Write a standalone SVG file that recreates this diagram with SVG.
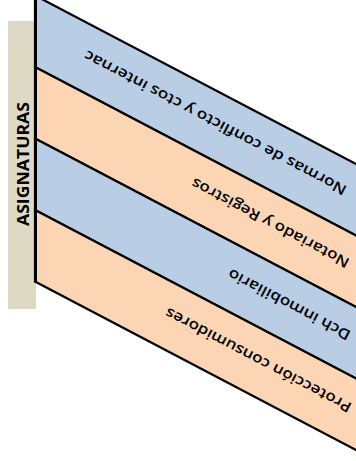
<svg xmlns="http://www.w3.org/2000/svg" width="356" height="461" viewBox="0 0 356 461">
<style>
.band{stroke:#000;stroke-width:2.2;stroke-linejoin:miter}
.blue{fill:#B9CDE5}
.peach{fill:#FCD5B5}
.lbl{font-family:"Open Sans","Liberation Sans",Arial,sans-serif;font-weight:600;font-size:14.5px;fill:#000;text-anchor:middle;dominant-baseline:central}
.title{font-family:"Open Sans","Liberation Sans",Arial,sans-serif;font-weight:bold;font-size:16px;fill:#000;text-anchor:middle}
</style>
<rect width="356" height="461" fill="#fff"/>
<g id="header">
<rect x="8" y="21" width="28" height="288" fill="#DDD9C4"/>
<text class="title" x="28.5" y="164" transform="rotate(-90 28.5 164)" textLength="124" lengthAdjust="spacingAndGlyphs">ASIGNATURAS</text>
</g>
<g id="band1">
<polygon class="band blue" points="35,-4.5 380,176.6 380,248.1 35,67"/>
<text class="lbl" x="215" y="123.2" transform="rotate(207.7 215 123.2)" textLength="294" lengthAdjust="spacingAndGlyphs">Normas de conflicto y ctos internac</text>
</g>
<g id="band2">
<polygon class="band peach" points="35,67 380,248.1 380,319.6 35,138.5"/>
<text class="lbl" x="270" y="223.4" transform="rotate(207.7 270 223.4)" textLength="176" lengthAdjust="spacingAndGlyphs">Notariado y Registros</text>
</g>
<g id="band3">
<polygon class="band blue" points="35,138.5 380,319.6 380,391.1 35,210"/>
<text class="lbl" x="289" y="305" transform="rotate(207.7 289 305)" textLength="136" lengthAdjust="spacingAndGlyphs">Dch inmobiliario</text>
</g>
<g id="band4">
<polygon class="band peach" points="35,210 380,391.1 380,462.6 35,281.5"/>
<text class="lbl" x="258" y="360.5" transform="rotate(207.7 258 360.5)" textLength="208" lengthAdjust="spacingAndGlyphs">Protección consumidores</text>
</g>
<g id="connectors">
<line x1="35.5" y1="0" x2="35.5" y2="282.5" stroke="#000" stroke-width="3"/>
</g>
</svg>
